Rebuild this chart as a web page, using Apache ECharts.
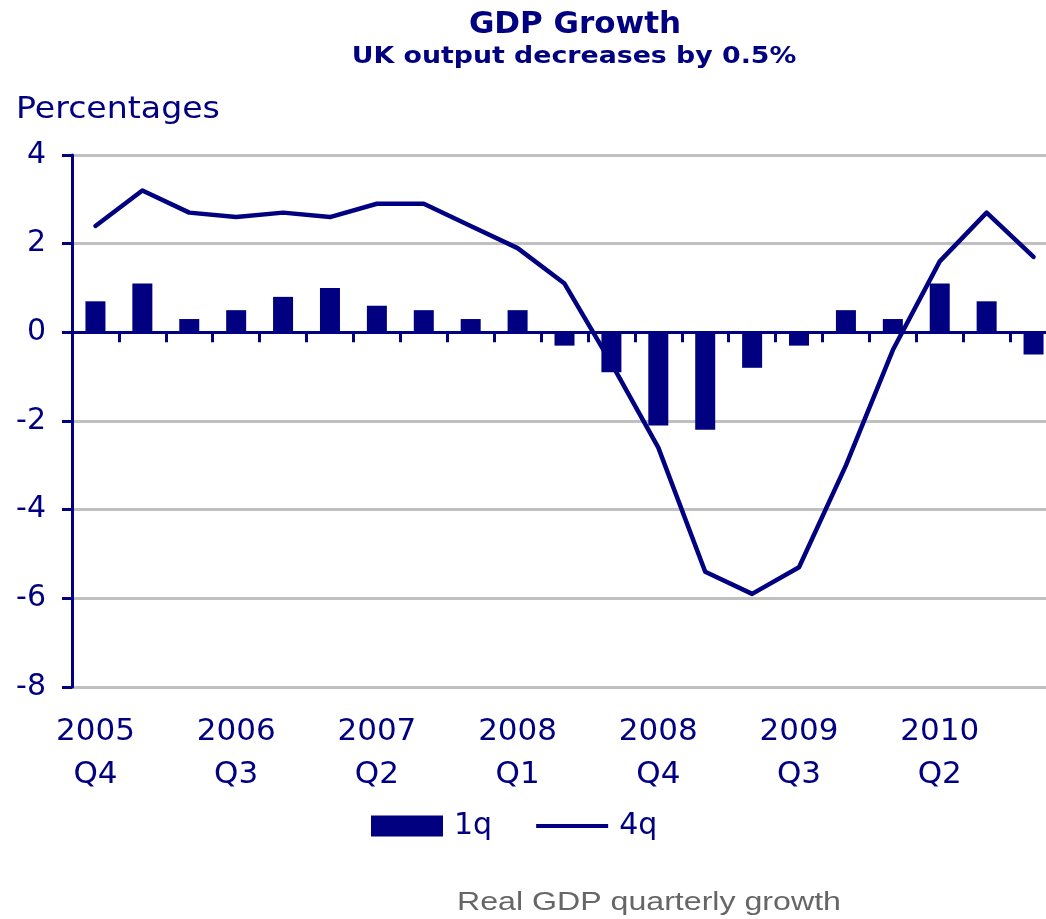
<!DOCTYPE html>
<html>
<head>
<meta charset="utf-8">
<title>GDP Growth</title>
<script src="https://cdn.jsdelivr.net/npm/echarts@6/dist/echarts.min.js"></script>
<style>
  html, body { margin: 0; padding: 0; background: #ffffff; }
  #chart { width: 1046px; height: 919px; }
</style>
</head>
<body>
<div id="chart"></div>
<script>
// Quarters from 2005 Q4 to 2010 Q4
const quarters = [
  '2005 Q4', '2006 Q1', '2006 Q2', '2006 Q3', '2006 Q4',
  '2007 Q1', '2007 Q2', '2007 Q3', '2007 Q4',
  '2008 Q1', '2008 Q2', '2008 Q3', '2008 Q4',
  '2009 Q1', '2009 Q2', '2009 Q3', '2009 Q4',
  '2010 Q1', '2010 Q2', '2010 Q3', '2010 Q4'
];

// Quarter-on-quarter growth, %
const growth1q = [
  0.7, 1.1, 0.3, 0.5, 0.8,
  1.0, 0.6, 0.5, 0.3,
  0.5, -0.3, -0.9, -2.1,
  -2.2, -0.8, -0.3, 0.5,
  0.3, 1.1, 0.7, -0.5
];

// Growth on the same quarter a year earlier, %
const growth4q = [
  2.4, 3.2, 2.7, 2.6, 2.7,
  2.6, 2.9, 2.9, 2.4,
  1.9, 1.1, -0.7, -2.6,
  -5.4, -5.9, -5.3, -3.0,
  -0.4, 1.6, 2.7, 1.7
];

const yTicks = { min: -8, max: 4, step: 2 };

const NAVY = '#000080';
const GRID_GREY = '#c0c0c0';
const AXIS_FONT = 'DejaVu Sans';

const chart = echarts.init(document.getElementById('chart'), null, { renderer: 'canvas' });

chart.setOption({
  animation: false,
  backgroundColor: '#ffffff',
  // the last quarter runs past the right edge of the canvas
  grid: { left: 72, top: 155, width: 985, height: 532, outerBoundsMode: 'none', containLabel: false },
  legend: {
    left: 371,
    top: 811,
    padding: 0,
    itemWidth: 72,
    itemHeight: 21,
    itemGap: 44,
    textStyle: { fontFamily: AXIS_FONT, fontSize: 30, color: NAVY, padding: [0, 0, 0, 6] },
    data: [
      { name: '1q', icon: 'rect' },
      { name: '4q', icon: 'path://M0,0 L76,0 L76,4 L0,4 Z' }
    ]
  },
  xAxis: [
    {
      // zero line with ticks between quarters
      type: 'category',
      data: quarters,
      boundaryGap: true,
      axisLine: { onZero: true, lineStyle: { color: NAVY, width: 3 } },
      axisTick: { show: true, interval: 0, length: 10, lineStyle: { color: NAVY, width: 3 } },
      axisLabel: { show: false },
      splitLine: { show: false }
    },
    {
      // quarter labels along the bottom edge
      type: 'category',
      data: quarters,
      position: 'bottom',
      boundaryGap: true,
      axisLine: { show: false, onZero: false },
      axisTick: { show: false },
      axisLabel: {
        interval: 2,
        margin: 23,
        fontFamily: AXIS_FONT,
        fontSize: 31,
        lineHeight: 43,
        color: NAVY,
        formatter: (v) => v.replace(' ', '\n')
      },
      splitLine: { show: false }
    }
  ],
  yAxis: {
    type: 'value',
    min: yTicks.min,
    max: yTicks.max,
    interval: yTicks.step,
    axisLine: { show: true, onZero: false, lineStyle: { color: NAVY, width: 3 } },
    axisTick: { show: true, length: 10, lineStyle: { color: NAVY, width: 3 } },
    axisLabel: { margin: 26, fontFamily: AXIS_FONT, fontSize: 30, color: NAVY },
    splitLine: { show: true, lineStyle: { color: GRID_GREY, width: 3 } }
  },
  series: [
    {
      name: '1q',
      type: 'bar',
      xAxisIndex: 0,
      data: growth1q,
      barWidth: 20,
      itemStyle: { color: NAVY },
      z: 2
    },
    {
      name: '4q',
      type: 'line',
      xAxisIndex: 0,
      data: growth4q,
      symbol: 'none',
      smooth: false,
      lineStyle: { color: NAVY, width: 4.5, join: 'round', cap: 'round' },
      itemStyle: { color: NAVY },
      z: 3
    }
  ],
  graphic: [
    {
      type: 'text', x: 575, y: 24.5,
      style: {
        text: 'GDP Growth', fontFamily: AXIS_FONT, fontWeight: 'bold', fontSize: 31,
        fill: NAVY, align: 'center', verticalAlign: 'middle'
      }
    },
    {
      type: 'text', x: 574, y: 57.6, scaleX: 1.19,
      style: {
        text: 'UK output decreases by 0.5%', fontFamily: AXIS_FONT, fontWeight: 'bold', fontSize: 22.5,
        fill: NAVY, align: 'center', verticalAlign: 'middle'
      }
    },
    {
      type: 'text', x: 16, y: 109.5, scaleX: 1.07,
      style: {
        text: 'Percentages', fontFamily: AXIS_FONT, fontSize: 31,
        fill: NAVY, align: 'left', verticalAlign: 'middle'
      }
    },
    {
      type: 'text', x: 457, y: 903.3, scaleX: 1.26,
      style: {
        text: 'Real GDP quarterly growth', fontFamily: 'Liberation Sans', fontSize: 25.5,
        fill: '#666666', align: 'left', verticalAlign: 'middle'
      }
    }
  ]
});
</script>
</body>
</html>
